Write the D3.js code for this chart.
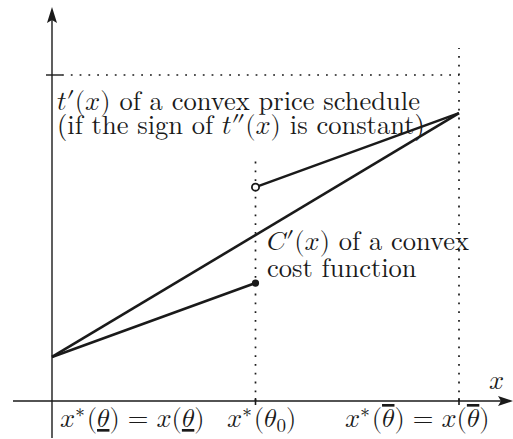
<!DOCTYPE html>
<html><head><meta charset="utf-8">
<script src="https://cdn.jsdelivr.net/npm/d3@7"></script>
<style>body{margin:0;background:#fff}</style></head>
<body><svg id="c" width="513" height="439"></svg>
<script>
// data (x in units from x*(θ_low)=0 to x*(θ_high)=1 ; y in units of the top level)
const xPoints = [0, 0.5, 1];
const straightLine = [0.135, 0.883];       // at x = 0 and x = 1
const lowerSegment = [0.135, 0.362];       // at x = 0 and x = 0.5 (filled end)
const upperSegment = [0.656, 0.883];       // at x = 0.5 (open end) and x = 1
const topLevel = 1.0;
const dottedTops = [0.739, 1.083];         // tops of vertical dotted guides at x=0.5, x=1

const svg = d3.select("#c");
const x = d3.scaleLinear([0,1],[52,459]);
const y = d3.scaleLinear([0,1],[401,75]);
const ink = "#1a1a1a";
const ROMAN = '"Latin Modern Roman","Liberation Serif",serif';
const MATH = '"Latin Modern Math","Latin Modern Roman","Liberation Serif",serif';

// dotted guides
const dot = "1.8,7";
svg.append("line").attr("x1",x(0)+10).attr("x2",x(1)).attr("y1",y(topLevel)).attr("y2",y(topLevel))
  .attr("stroke",ink).attr("stroke-width",1.7).attr("stroke-dasharray",dot);
[[xPoints[1],dottedTops[0]],[xPoints[2],dottedTops[1]]].forEach(([xv,top])=>{
  svg.append("line").attr("x1",x(xv)).attr("x2",x(xv)).attr("y1",y(0)).attr("y2",y(top))
    .attr("stroke",ink).attr("stroke-width",1.7).attr("stroke-dasharray",dot);
});

// axes
svg.append("line").attr("x1",13).attr("x2",505).attr("y1",y(0)).attr("y2",y(0)).attr("stroke",ink).attr("stroke-width",1.4);
svg.append("line").attr("x1",x(0)).attr("x2",x(0)).attr("y1",438).attr("y2",16).attr("stroke",ink).attr("stroke-width",1.4);
svg.append("path").attr("d",`M513,${y(0)} L498,${y(0)-5} L501,${y(0)} L498,${y(0)+5} Z`).attr("fill",ink);
svg.append("path").attr("d",`M${x(0)},7 L${x(0)-5},23 L${x(0)},20 L${x(0)+5},23 Z`).attr("fill",ink);
// ticks
svg.append("line").attr("x1",x(0)-6).attr("x2",x(0)+10).attr("y1",y(topLevel)).attr("y2",y(topLevel)).attr("stroke",ink).attr("stroke-width",1.4);
[xPoints[1],xPoints[2]].forEach(xv=>{
  svg.append("line").attr("x1",x(xv)).attr("x2",x(xv)).attr("y1",y(0)-3).attr("y2",y(0)+4).attr("stroke",ink).attr("stroke-width",1.6);
});

// lines
const ln = d3.line().x(d=>x(d[0])).y(d=>y(d[1]));
const lw = 2.6;
svg.append("path").attr("d",ln([[xPoints[0],straightLine[0]],[xPoints[2],straightLine[1]]])).attr("stroke",ink).attr("stroke-width",lw).attr("fill","none");
svg.append("path").attr("d",ln([[xPoints[0],lowerSegment[0]],[xPoints[1],lowerSegment[1]]])).attr("stroke",ink).attr("stroke-width",lw).attr("fill","none");
svg.append("path").attr("d",ln([[xPoints[1],upperSegment[0]],[xPoints[2],upperSegment[1]]])).attr("stroke",ink).attr("stroke-width",lw).attr("fill","none");
svg.append("circle").attr("cx",x(xPoints[1])).attr("cy",y(lowerSegment[1])).attr("r",3.6).attr("fill",ink);
svg.append("circle").attr("cx",x(xPoints[1])).attr("cy",y(upperSegment[0])).attr("r",3.6).attr("fill","#fff").attr("stroke",ink).attr("stroke-width",1.8);

// text helper
function rich(px,py,parts,size){
  const t = svg.append("text").attr("x",px).attr("y",py).attr("font-size",size)
    .attr("font-family",ROMAN).attr("fill",ink);
  parts.forEach(p=>{
    const s = t.append("tspan").text(p.t);
    if(p.m) s.attr("font-family",MATH);
    if(p.sup){ s.attr("dy",-10).attr("font-size",size*0.72); }
    if(p.supEnd){ s.attr("dy",10).attr("dx",2); }
    if(p.sub){ s.attr("dy",5).attr("font-size",size*0.72); }
    if(p.subEnd){ s.attr("dy",-5); }
    if(p.dx) s.attr("dx",p.dx);
    if(p.deco) s.attr("text-decoration",p.deco);
  });
  return t;
}
const fs = 26.5;
rich(57,110,[{t:"𝑡′(𝑥)",m:1},{t:" of a convex price schedule"}],fs);
rich(57,134,[{t:"(if the sign of "},{t:"𝑡″(𝑥)",m:1},{t:" is constant)"}],fs);
rich(267,250,[{t:"𝐶′(𝑥)",m:1},{t:" of a convex"}],fs);
rich(267,277,[{t:"cost function"}],fs);
rich(489,389,[{t:"𝑥",m:1}],fs);

// x-axis labels
rich(60,427,[{t:"𝑥",m:1},{t:"∗",m:1,sup:1},{t:"(",m:1,supEnd:1},{t:"𝜃",m:1,deco:"underline"},{t:")",m:1},{t:"=",m:1,dx:8},{t:"𝑥(",m:1,dx:8},{t:"𝜃",m:1,deco:"underline"},{t:")",m:1}],fs);
rich(227,427,[{t:"𝑥",m:1},{t:"∗",m:1,sup:1},{t:"(𝜃",m:1,supEnd:1},{t:"0",m:1,sub:1},{t:")",m:1,subEnd:1}],fs);
rich(345,427,[{t:"𝑥",m:1},{t:"∗",m:1,sup:1},{t:"(",m:1,supEnd:1},{t:"𝜃",m:1,deco:"overline"},{t:")",m:1},{t:"=",m:1,dx:8},{t:"𝑥(",m:1,dx:8},{t:"𝜃",m:1,deco:"overline"},{t:")",m:1}],fs);
</script></body></html>
